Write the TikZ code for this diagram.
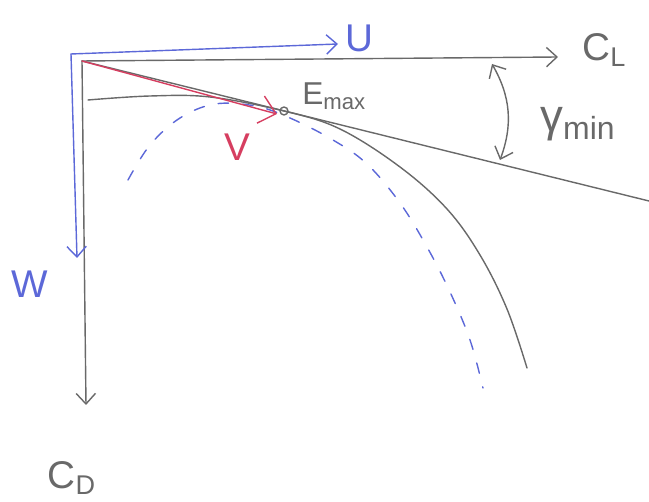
\documentclass[tikz,border=0pt]{standalone}
\usepackage{fontspec}
\setmainfont{Liberation Sans}
\usetikzlibrary{arrows.meta,positioning,calc}
\definecolor{AxisGray}{RGB}{105,105,105}
\definecolor{AxisBlue}{RGB}{92,104,216}
\definecolor{VecRed}{RGB}{214,62,96}

\begin{document}
\begin{tikzpicture}[x=0.02cm,y=-0.02cm,
   hand/.style={line width=0.8pt,line cap=round},
   barb/.style={-{Straight Barb[length=6pt,width=11pt]}},
   lbl/.style={font=\fontsize{22}{26}\selectfont,inner sep=0pt}]
  \useasboundingbox (0,0) rectangle (649,502);
  % gray axes C_L / C_D
  \coordinate (O) at (82,61);
  \coordinate (clEnd) at (558,57);
  \coordinate (cdEnd) at (86,405);
  \draw[hand,barb,AxisGray] (O) -- (clEnd);
  \draw[hand,barb,AxisGray] (O) -- (cdEnd);
  \node[lbl,AxisGray,anchor=west] (cl) at (582,50) {C\textsubscript{L}};
  \node[lbl,AxisGray] (cd) at (72,478) {C\textsubscript{D}};
  % blue axes U / W
  \coordinate (B) at (71,54);
  \coordinate (uEnd) at (338,44);
  \coordinate (wEnd) at (77,258);
  \draw[hand,barb,AxisBlue] (B) -- (uEnd);
  \draw[hand,barb,AxisBlue] (B) -- (wEnd);
  \node[lbl,AxisBlue,anchor=west] (u) at (345,38) {U};
  \node[lbl,AxisBlue] (w) at (30,284) {W};
  % tangent line through E_max
  \coordinate (tanEnd) at (649,201);
  \draw[hand,AxisGray] (O) -- (tanEnd);
  \node[circle,draw,AxisGray,line width=0.8pt,inner sep=1.6pt] (emax) at (284,111) {};
  \node[lbl,AxisGray,font=\fontsize{18}{22}\selectfont,anchor=west] (emaxLbl) at (302,96) {E\textsubscript{max}};
  % polar curves
  \draw[hand,AxisGray] plot[smooth,tension=0.6] coordinates
     {(88,100) (150,96) (210,97) (284,111) (340,129) (400,167) (447,209) (480,255) (507,309) (527,368)};
  \draw[hand,AxisBlue,dash pattern=on 6pt off 8pt] plot[smooth,tension=0.6] coordinates
     {(128,180) (150,145) (180,118) (215,104) (255,106) (290,118) (333,140) (367,164) (400,203) (427,247) (450,292) (470,340) (483,388)};
  % velocity vector
  \coordinate (vEnd) at (277,114);
  \draw[hand,VecRed,-{Straight Barb[length=9pt,width=16pt]}] (O) -- (vEnd);
  \node[lbl,VecRed] (v) at (237,147) {V};
  % minimum glide angle
  \coordinate (g1) at (492,64);
  \coordinate (g2) at (500,160);
  \draw[hand,AxisGray,{Straight Barb[length=6pt,width=11pt]}-{Straight Barb[length=6pt,width=11pt]}]
     (g1) to[bend left=25] (g2);
  \node[lbl,AxisGray,anchor=west,font=\fontsize{26}{30}\selectfont] (gam) at (540,124) {γ\textsubscript{min}};
\end{tikzpicture}
\end{document}
